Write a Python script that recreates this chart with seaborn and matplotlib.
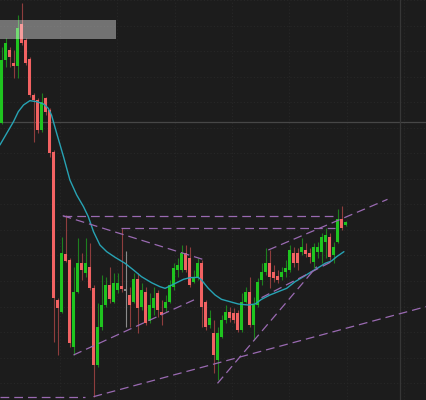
import matplotlib
matplotlib.use("Agg")
import matplotlib.pyplot as plt
from matplotlib.patches import Rectangle
import numpy as np
import pandas as pd
import seaborn as sns

# ---------------- data (price units, arbitrary scale) ----------------
opens = [830, 1020, 1050, 1012, 1002, 1128, 1080, 1022, 915, 900,
         810, 905, 870, 745, 300, 265, 438, 420, 160, 325,
         410, 380, 400, 335, 105, 218, 285, 345, 295, 330,
         342, 332, 315, 295, 362, 280, 325, 238, 275, 320,
         265, 275, 295, 340, 390, 390, 440, 425, 355, 370,
         410, 295, 225, 200, 120, 190, 240, 265, 260, 260,
         210, 295, 325, 225, 285, 360, 385, 410, 385, 372,
         370, 385, 390, 440, 440, 445, 450, 440, 415, 445,
         445, 475, 490, 435, 475, 542, 525]
highs = [1060, 1085, 1060, 1050, 1155, 1192, 1085, 1030, 920, 905,
         922, 910, 875, 750, 305, 490, 555, 425, 400, 485,
         440, 485, 470, 345, 290, 375, 370, 400, 380, 380,
         515, 448, 340, 380, 382, 350, 340, 320, 340, 330,
         300, 315, 360, 410, 425, 465, 465, 460, 390, 425,
         420, 300, 270, 240, 220, 255, 285, 280, 275, 270,
         320, 340, 370, 310, 365, 410, 455, 450, 405, 390,
         400, 420, 465, 460, 455, 485, 470, 455, 470, 475,
         500, 515, 500, 475, 572, 582, 537]
lows = [828, 1000, 1000, 965, 965, 1065, 1005, 910, 775, 800,
        805, 855, 730, 175, 135, 260, 415, 160, 135, 320,
        360, 370, 330, 10, 100, 210, 280, 290, 290, 320,
        325, 220, 220, 290, 200, 270, 225, 230, 255, 250,
        225, 265, 290, 330, 370, 385, 385, 340, 350, 360,
        220, 210, 215, 80, 60, 185, 230, 235, 230, 205,
        205, 290, 220, 180, 280, 345, 375, 335, 355, 350,
        360, 370, 385, 400, 390, 435, 430, 410, 395, 425,
        410, 425, 420, 410, 470, 510, 523]
closes = [1020, 1070, 1030, 1002, 1115, 1070, 1010, 915, 900, 810,
          895, 865, 740, 305, 275, 440, 418, 170, 325, 410,
          390, 410, 335, 105, 220, 285, 345, 302, 352, 352,
          332, 328, 285, 362, 275, 330, 232, 285, 305, 270,
          255, 295, 345, 395, 405, 440, 390, 345, 370, 410,
          280, 220, 245, 135, 200, 240, 265, 245, 240, 210,
          295, 325, 225, 285, 355, 385, 410, 370, 365, 360,
          385, 395, 450, 410, 410, 460, 438, 428, 460, 460,
          490, 495, 430, 458, 542, 515, 535]

# moving-average line (candle index, value)
ma_idx = [-0.4, 1.3, 3.0, 4.2, 5.5, 7.1, 8.8, 10.5, 11.7, 12.5, 13.8, 15.5,
          17.1, 18.8, 20.5, 21.7, 23.0, 24.6, 26.3, 28.4, 30.9, 33.0, 35.0,
          37.5, 39.6, 40.9, 42.1, 43.8, 45.5, 47.1, 49.2, 50.0, 51.7, 53.4,
          55.0, 57.1, 59.2, 61.7, 63.4, 65.0, 67.1, 69.6, 71.3, 73.4, 75.5,
          77.5, 79.6, 80.9, 82.5, 83.8, 85.6]
ma_val = [765, 800, 835, 865, 885, 898, 895, 888, 875, 855, 800, 730,
          660, 615, 580, 550, 505, 465, 445, 428, 410, 390, 370,
          352, 340, 335, 342, 352, 362, 367, 368, 360, 335, 315,
          302, 295, 288, 285, 288, 302, 315, 327, 335, 355, 370,
          385, 400, 410, 417, 430, 445]

# drawn trendlines: (x0, y0, x1, y1) in candle index / price
trend_x0 = [15.3, 29.8, 15.3, 18.0, 23.0, -0.4, 54.0, 66.7, 65.0]
trend_y0 = [553, 515, 553, 135, 10, 10, 50, 450, 307]
trend_x1 = [83.8, 83.4, 50.3, 48.6, 106.1, 20.9, 78.8, 96.5, 82.5]
trend_y1 = [553, 515, 422, 303, 280, 10, 400, 602, 415]

# ---------------- style ----------------
BG = "#1c1c1c"
sns.set_theme(style="dark", rc={"axes.facecolor": BG, "figure.facecolor": BG,
                                "savefig.facecolor": BG})
UP, DOWN, DOJI = "#1fc41f", "#f26262", "#8a8a8a"
UP_W, DOWN_W = "#1e7f1e", "#8e3d3d"

fig = plt.figure(figsize=(4.26, 4.0), dpi=100)
ax = fig.add_axes([0, 0, 1, 1])
ax.set_xlim(-0.375, 106.125)
ax.set_ylim(0, 1200)
for s in ax.spines.values():
    s.set_visible(False)

# faint dotted grid
gy = np.arange(51, 1200, 76.5)
gx = (np.arange(60, 426, 57.3) - 1.5) / 4
ax.set_yticks(gy)
ax.set_xticks(gx)
ax.tick_params(length=0, labelbottom=False, labelleft=False)
ax.grid(True, color="#272727", linestyle=(0, (1, 2)), linewidth=0.8)

# crosshair
ax.axhline(833, color="#474747", lw=0.9, zorder=1)
ax.axvline(99.6, color="#363636", lw=0.9, zorder=1)

df = pd.DataFrame({"o": opens, "h": highs, "l": lows, "c": closes})
df["i"] = np.arange(len(df))
diff = df["c"] - df["o"]
col = np.where(diff.abs() < 5, DOJI, np.where(diff >= 0, UP, DOWN))
wcol = np.where(diff.abs() < 5, DOJI, np.where(diff >= 0, UP_W, DOWN_W))

ax.vlines(df["i"], df["l"], df["h"], colors=wcol, lw=0.8, zorder=2)
bottom = np.minimum(df["o"], df["c"])
height = np.maximum(diff.abs(), 3)
ax.bar(df["i"], height, bottom=bottom, width=0.72, color=col,
       linewidth=0, zorder=3)

# moving average
sns.lineplot(x=ma_idx, y=ma_val, ax=ax, color="#27a3b4", lw=1.0,
             estimator=None, sort=False, zorder=4)

# trendlines
for x0, y0, x1, y1 in zip(trend_x0, trend_y0, trend_x1, trend_y1):
    ax.plot([x0, x1], [y0, y1], color="#9a6ab2", lw=0.9,
            linestyle=(0, (7, 4)), zorder=5)

# highlight box top-left
ax.add_patch(Rectangle((-0.375, 1082), 29.0, 58, facecolor="#ffffff",
                       alpha=0.38, edgecolor="none", zorder=6))

fig.savefig("out.png", dpi=100, facecolor=BG)
